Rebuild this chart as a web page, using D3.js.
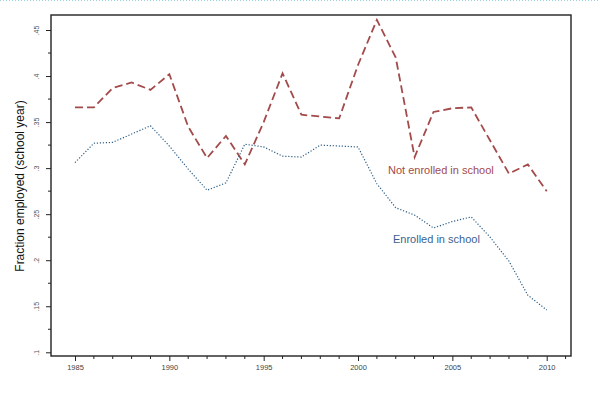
<!DOCTYPE html>
<html>
<head>
<meta charset="utf-8">
<script src="https://cdn.jsdelivr.net/npm/d3@7"></script>
<style>
  body { margin: 0; background: #fff; }
  svg text { font-family: "Liberation Sans", Arial, sans-serif; }
</style>
</head>
<body>
<svg id="chart" width="600" height="396"></svg>
<script>
// years on the x axis
var years = d3.range(1985, 2011);

// fraction employed, not enrolled in school (red dashed)
var notEnrolled = [0.366, 0.366, 0.387, 0.393, 0.385, 0.402, 0.345, 0.311, 0.335, 0.304,
                   0.350, 0.403, 0.358, 0.356, 0.354, 0.412, 0.461, 0.420, 0.312, 0.361,
                   0.365, 0.366, 0.330, 0.294, 0.304, 0.275];

// fraction employed, enrolled in school (blue dotted)
var enrolled = [0.306, 0.327, 0.328, 0.337, 0.346, 0.324, 0.299, 0.276, 0.284, 0.326,
                0.323, 0.313, 0.312, 0.325, 0.324, 0.323, 0.283, 0.257, 0.249, 0.235,
                0.242, 0.247, 0.225, 0.199, 0.162, 0.146];

var yTicks = [0.1, 0.15, 0.2, 0.25, 0.3, 0.35, 0.4, 0.45];
var xTicks = [1985, 1990, 1995, 2000, 2005, 2010];

var svg = d3.select("#chart");

// top dotted border of the picture
svg.append("line")
    .attr("x1", 0).attr("x2", 600).attr("y1", 0.5).attr("y2", 0.5)
    .attr("stroke", "#9ed4e0").attr("stroke-dasharray", "1,2");

var plot = { left: 51, right: 571, top: 15, bottom: 356 };

var x = d3.scaleLinear()
    .domain([1985, 2010])
    .range([75, 546.7]);

var y = d3.scaleLinear()
    .domain([0.1, 0.45])
    .range([352.3, 30]);

// frame
svg.append("rect")
    .attr("x", plot.left).attr("y", plot.top)
    .attr("width", plot.right - plot.left)
    .attr("height", plot.bottom - plot.top)
    .attr("fill", "none")
    .attr("stroke", "#222")
    .attr("stroke-width", 1.4);

// y axis ticks (major + minor)
var gy = svg.append("g").attr("transform", "translate(" + plot.left + ",0)");
gy.call(d3.axisLeft(y)
        .tickValues(yTicks)
        .tickSize(5)
        .tickFormat(function(d) { return d3.format(".2f")(d).replace(/^0/, "").replace(/0$/, ""); }))
    .select(".domain").remove();
gy.selectAll(".tick line").attr("stroke", "#222");
gy.selectAll(".tick text")
    .attr("x", 0).attr("dy", 0)
    .attr("transform", "translate(-12,0) rotate(-90)")
    .attr("text-anchor", "middle")
    .attr("fill", "#555")
    .attr("font-size", 7);
gy.selectAll(".minor")
    .data(d3.range(0.125, 0.45, 0.05))
    .enter().append("line")
    .attr("x1", -3).attr("x2", 0)
    .attr("y1", function(d) { return y(d); })
    .attr("y2", function(d) { return y(d); })
    .attr("stroke", "#222");

// x axis ticks
var gx = svg.append("g").attr("transform", "translate(0," + plot.bottom + ")");
gx.call(d3.axisBottom(x)
        .tickValues(xTicks)
        .tickSize(5)
        .tickFormat(d3.format("d")))
    .select(".domain").remove();
gx.selectAll(".tick line").attr("stroke", "#222");
gx.selectAll(".tick text")
    .attr("y", 9)
    .attr("fill", "#444")
    .attr("font-size", 7.5);
gx.selectAll(".minor")
    .data(years.filter(function(d) { return d % 5 !== 0; }).concat([2011]))
    .enter().append("line")
    .attr("x1", function(d) { return x(d); })
    .attr("x2", function(d) { return x(d); })
    .attr("y1", 0).attr("y2", 3)
    .attr("stroke", "#222");

// y title
svg.append("text")
    .attr("transform", "translate(24,186) rotate(-90)")
    .attr("text-anchor", "middle")
    .attr("font-size", 12)
    .attr("fill", "#111")
    .text("Fraction employed (school year)");

var line = d3.line()
    .x(function(d, i) { return x(years[i]); })
    .y(function(d) { return y(d); });

svg.append("path")
    .datum(notEnrolled)
    .attr("d", line)
    .attr("fill", "none")
    .attr("stroke", "#a34a4a")
    .attr("stroke-width", 1.8)
    .attr("stroke-dasharray", "8,4");

svg.append("path")
    .datum(enrolled)
    .attr("d", line)
    .attr("fill", "none")
    .attr("stroke", "#2b5d86")
    .attr("stroke-width", 1.2)
    .attr("stroke-dasharray", "1.2,1.8");

svg.append("text")
    .attr("x", 388).attr("y", 174)
    .attr("font-size", 11)
    .attr("fill", "#a34a4a")
    .text("Not enrolled in school");

svg.append("text")
    .attr("x", 393).attr("y", 243)
    .attr("font-size", 11)
    .attr("fill", "#3b5f91")
    .text("Enrolled in school");
</script>
</body>
</html>
